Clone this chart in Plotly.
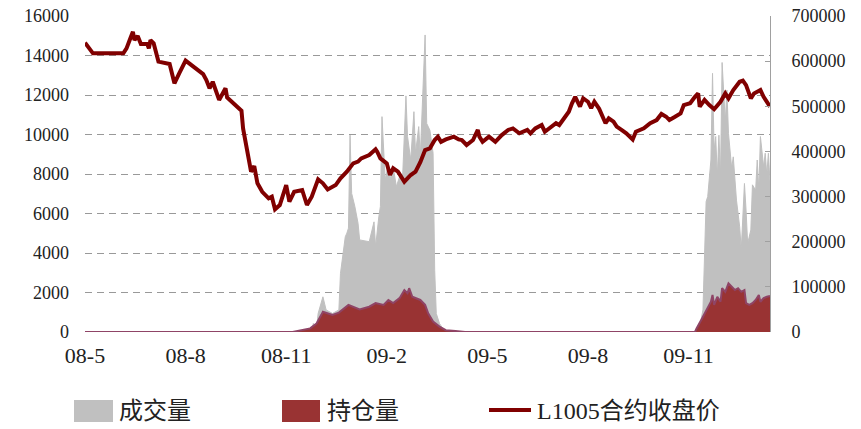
import plotly.graph_objects as go

# x positions are trading-session indexes counted from early May 2008
tick_idx = [0, 63, 126, 189, 252, 315, 378]
tick_text = ["08-5", "08-8", "08-11", "09-2", "09-5", "09-8", "09-11"]

price_idx = [0, 5, 24, 26, 28, 30, 31, 33, 35, 39, 40, 41, 43, 45, 46, 53, 56, 59, 63,
             74, 76, 78, 80, 84, 88, 89, 98, 99, 101, 103, 104, 106, 108, 111, 115, 117,
             119, 122, 126, 128, 131, 136, 139, 142, 146, 149, 152, 157, 160, 164, 168,
             171, 173, 178, 182, 183, 185, 189, 191, 193, 196, 200, 204, 207, 210, 213,
             216, 219, 221, 223, 226, 231, 234, 236, 239, 243, 246, 247, 249, 253, 257,
             261, 265, 268, 272, 277, 279, 282, 286, 288, 292, 295, 297, 301, 303, 305,
             307, 310, 312, 315, 317, 319, 322, 326, 328, 331, 333, 336, 339, 343, 345,
             350, 354, 358, 361, 364, 366, 369, 373, 375, 379, 382, 384, 385, 388, 391,
             394, 398, 401, 403, 406, 410, 412, 414, 417, 419, 423, 425, 427, 429]
price_val = [14650, 14110, 14110, 14360, 14780, 15200, 14780, 14990, 14580, 14580, 14360,
             14780, 14620, 14110, 13690, 13570, 12590, 13100, 13740, 13060, 12760, 12340,
             12670, 11750, 12340, 11880, 11200, 10310, 9470, 8710, 8120, 8400, 7530, 7100,
             6770, 6850, 6210, 6430, 7440, 6600, 7100, 7190, 6430, 6850, 7730, 7530, 7220,
             7440, 7780, 8120, 8540, 8630, 8790, 8960, 9250, 9130, 8790, 8540, 7950, 8290,
             8120, 7610, 7950, 8120, 8600, 9210, 9300, 9720, 9890, 9630, 9750, 9890, 9750,
             9720, 9470, 9720, 10230, 9890, 9630, 9890, 9630, 9970, 10230, 10310, 10060,
             10230, 10060, 10310, 10480, 10140, 10400, 10570, 10480, 10900, 11150, 11580,
             11910, 11410, 11830, 11660, 11330, 11660, 11300, 10570, 10820, 10650, 10400,
             10230, 10060, 9750, 10140, 10310, 10570, 10730, 11040, 10900, 10730, 10870,
             11070, 11490, 11580, 11910, 12080, 11410, 11750, 11490, 11280, 11660, 12080,
             11830, 12250, 12670, 12730, 12500, 11830, 12080, 12250, 11910, 11660, 11410]

vol_idx = [0, 135, 137, 139, 142, 143, 145, 146, 149, 150, 151, 155, 159, 160, 161, 163,
           164, 165, 166, 167, 169, 171, 172, 178, 181, 182, 184, 185, 186, 188, 190, 191,
           193, 195, 197, 199, 201, 202, 204, 206, 207, 209, 210, 211, 213, 214, 216, 218,
           219, 220, 222, 224, 226, 383, 385, 387, 389, 390, 392, 393, 394, 395, 396, 397,
           398, 399, 401, 402, 403, 405, 406, 408, 410, 411, 413, 414, 415, 417, 418, 420,
           421, 422, 423, 425, 426, 427, 428, 429]
vol_val = [0, 0, 4000, 0, 0, 19000, 8000, 41000, 78000, 60000, 49000, 41000, 49000,
           130000, 160000, 211000, 219000, 230000, 436000, 307000, 278000, 241000, 204000,
           200000, 244000, 189000, 255000, 278000, 477000, 337000, 374000, 337000, 366000,
           322000, 344000, 351000, 523000, 433000, 381000, 488000, 396000, 455000, 388000,
           470000, 658000, 462000, 447000, 396000, 137000, 41000, 19000, 8000, 0, 0, 12000,
           49000, 289000, 300000, 381000, 573000, 403000, 433000, 344000, 436000, 344000,
           597000, 466000, 536000, 440000, 363000, 388000, 292000, 233000, 182000, 329000,
           270000, 196000, 226000, 326000, 314000, 381000, 314000, 433000, 366000, 396000,
           348000, 396000, 333000]

oi_idx = [0, 130, 141, 145, 148, 149, 155, 159, 165, 168, 172, 178, 182, 187, 190, 193,
          197, 200, 202, 203, 205, 210, 213, 215, 218, 222, 226, 232, 238, 382, 383, 386,
          388, 390, 392, 393, 394, 396, 398, 399, 401, 403, 405, 407, 409, 411, 413, 414,
          416, 418, 420, 422, 423, 425, 427, 429]
oi_val = [0, 0, 8000, 19000, 38000, 45000, 38000, 43000, 60000, 55000, 50000, 56000,
          64000, 60000, 71000, 64000, 75000, 93000, 86000, 97000, 78000, 71000, 60000,
          41000, 23000, 12000, 4000, 2000, 0, 0, 8000, 27000, 41000, 56000, 67000, 82000,
          60000, 78000, 67000, 97000, 89000, 108000, 100000, 93000, 97000, 89000, 93000,
          64000, 60000, 64000, 71000, 82000, 67000, 75000, 78000, 80000]

legend_names = ["成交量", "持仓量", "L1005合约收盘价"]
vol_color = "#c0c0c0"
oi_color = "#993333"
price_color = "#800000"

num_font = "Liberation Serif, serif"
cjk_font = "Liberation Serif, Noto Sans CJK SC, serif"

fig = go.Figure()
fig.add_trace(go.Scatter(x=vol_idx, y=vol_val, mode="lines", fill="tozeroy",
                         fillcolor=vol_color, line=dict(color=vol_color, width=1),
                         name=legend_names[0], yaxis="y", showlegend=False))
fig.add_trace(go.Scatter(x=oi_idx, y=oi_val, mode="lines", fill="tozeroy",
                         fillcolor=oi_color, line=dict(color="#8f4466", width=2),
                         name=legend_names[1], yaxis="y", showlegend=False))
fig.add_trace(go.Scatter(x=price_idx, y=price_val, mode="lines",
                         line=dict(color=price_color, width=4),
                         name=legend_names[2], yaxis="y2", showlegend=False))

# the page body adds an 8px offset, so the figure is 8px smaller on each side
OFF = 8
W, H = 861 - OFF, 429 - OFF
L, R, T, B = 85 - OFF, 770 - OFF, 16 - OFF, 332 - OFF


def px(x):
    return (x - OFF - L) / (R - L)


def py(y):
    return (B - (y - OFF)) / (B - T)


shapes = [
    dict(type="rect", xref="paper", yref="paper", x0=px(74), x1=px(113), y0=py(400), y1=py(422),
         fillcolor=vol_color, line=dict(width=0)),
    dict(type="rect", xref="paper", yref="paper", x0=px(282), x1=px(320), y0=py(400), y1=py(422),
         fillcolor=oi_color, line=dict(width=0)),
    dict(type="line", xref="paper", yref="paper", x0=px(489), x1=px(531), y0=py(410), y1=py(410),
         line=dict(color=price_color, width=4)),
]
ann_font = dict(family=cjk_font, size=24, color="#222")
annotations = [
    dict(text=legend_names[0], xref="paper", yref="paper", x=px(117), y=py(411),
         xanchor="left", yanchor="middle", showarrow=False, font=ann_font),
    dict(text=legend_names[1], xref="paper", yref="paper", x=px(325), y=py(411),
         xanchor="left", yanchor="middle", showarrow=False, font=ann_font),
    dict(text=legend_names[2], xref="paper", yref="paper", x=px(535), y=py(411),
         xanchor="left", yanchor="middle", showarrow=False, font=ann_font),
]

fig.update_layout(
    width=W, height=H,
    margin=dict(l=L, r=W - R, t=T, b=H - B, autoexpand=False),
    paper_bgcolor="white", plot_bgcolor="white",
    showlegend=False,
    shapes=shapes, annotations=annotations,
    xaxis=dict(range=[0, 429], tickmode="array", tickvals=tick_idx, ticktext=tick_text,
               showgrid=False, zeroline=False, showline=False, ticks="", automargin=False,
               ticklabeloverflow="allow",
               tickfont=dict(family=num_font, size=22, color="#222"), ticklabelstandoff=8),
    yaxis=dict(range=[0, 700000], side="right", dtick=100000, tick0=0, tickformat="d",
               exponentformat="none", automargin=False, ticklabeloverflow="allow",
               showgrid=False, zeroline=False, showline=True, linecolor="#a0a0a0", linewidth=1,
               ticks="inside", ticklen=5, tickcolor="#a0a0a0",
               tickfont=dict(family=num_font, size=18, color="#222"), ticklabelstandoff=17),
    yaxis2=dict(range=[0, 16000], side="left", overlaying="y", dtick=2000, tick0=0,
                tickformat="d", exponentformat="none", automargin=False, ticklabeloverflow="allow",
                showgrid=True, gridcolor="#999999", griddash="7px,5px", gridwidth=1,
                zeroline=False, showline=False, ticks="",
                tickfont=dict(family=num_font, size=18, color="#222"), ticklabelstandoff=15),
)

fig.write_html("out.html")
